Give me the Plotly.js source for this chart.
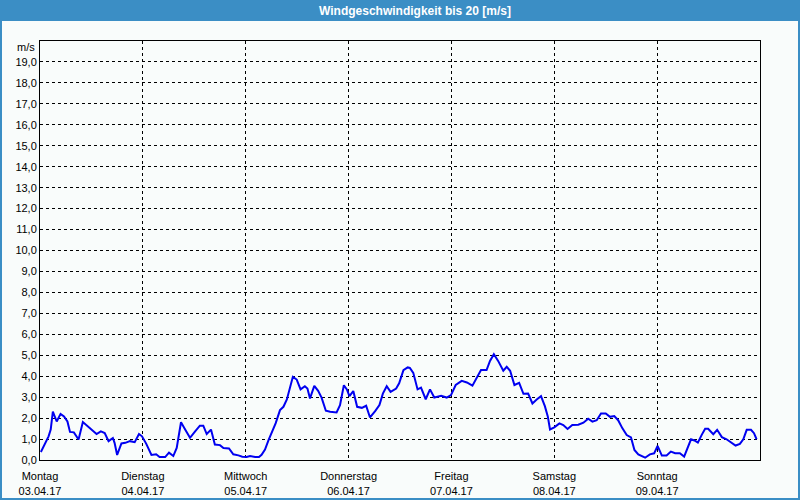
<!DOCTYPE html>
<html>
<head>
<meta charset="utf-8">
<script src="https://cdn.plot.ly/plotly-3.0.1.min.js"></script>
<style>
html,body{margin:0;padding:0;background:#F9FCFB;}
#chart{width:800px;height:500px;}
</style>
</head>
<body>
<div id="chart"></div>
<script>
// Hours since Monday 03.04.17 00:00
const hours = [0.2,1.1,2.0,2.5,3.0,3.4,3.9,4.8,5.6,6.4,7.0,7.9,9.0,10.0,11.0,12.1,13.2,14.2,15.1,16.0,17.0,17.4,18.0,19.0,19.9,21.0,22.1,23.1,23.8,24.8,26.0,27.1,27.9,28.7,29.2,30.1,31.1,31.9,32.3,32.9,33.8,35.0,36.2,37.3,38.1,38.9,39.9,40.8,42.0,42.8,44.1,45.1,46.3,47.2,48.2,49.0,50.2,51.1,51.7,52.5,53.3,54.1,54.4,55.0,56.0,56.8,57.6,58.2,59.0,59.9,60.8,61.8,62.4,63.0,64.0,64.9,65.7,66.7,67.7,69.2,70.0,70.9,71.6,72.2,73.1,74.0,75.1,76.1,77.0,78.2,79.2,80.0,80.9,81.8,83.1,83.8,84.8,85.8,86.3,87.1,88.1,88.9,90.0,91.0,92.0,93.6,94.9,95.9,97.0,98.4,99.6,100.9,101.9,102.9,104.2,105.0,105.9,106.9,108.1,108.9,109.7,110.7,111.8,112.8,113.9,114.9,115.9,116.9,117.8,118.5,119.0,120.0,121.2,122.1,123.1,124.2,125.6,126.8,127.9,128.9,129.9,130.9,132.0,133.0,134.0,134.9,135.9,136.9,137.9,138.7,139.6,141.2,142.3,143.3,144.1,145.1,146.2,147.2,148.2,149.3,150.3,151.1,151.9,152.7,153.5,154.4,155.2,155.9,157.1,158.0,159.1,160.2,161.2,162.3,163.3,164.1,164.9,165.9,166.6,167.2];
// Wind speed in m/s
const speed = [0.38,0.74,1.13,1.45,2.31,2.10,1.84,2.20,2.08,1.84,1.34,1.32,0.98,1.81,1.64,1.42,1.24,1.37,1.29,0.90,1.05,0.82,0.24,0.79,0.82,0.90,0.85,1.24,1.13,0.77,0.24,0.27,0.14,0.14,0.14,0.35,0.19,0.58,1.06,1.80,1.48,1.06,1.37,1.64,1.64,1.24,1.45,0.74,0.71,0.57,0.55,0.27,0.22,0.16,0.14,0.19,0.14,0.14,0.25,0.50,0.94,1.29,1.43,1.76,2.38,2.54,2.89,3.37,3.97,3.84,3.37,3.52,3.41,2.94,3.54,3.30,2.98,2.35,2.30,2.27,2.62,3.57,3.37,3.05,3.29,2.54,2.49,2.59,2.03,2.33,2.62,3.17,3.52,3.25,3.41,3.66,4.29,4.42,4.40,4.16,3.37,3.45,2.90,3.37,2.98,3.06,2.98,3.10,3.58,3.78,3.70,3.55,3.89,4.29,4.29,4.73,5.05,4.73,4.26,4.45,4.26,3.58,3.68,3.16,3.17,2.70,2.89,3.05,2.57,2.06,1.46,1.56,1.75,1.67,1.48,1.67,1.68,1.78,1.97,1.83,1.90,2.22,2.22,2.06,2.10,1.90,1.51,1.19,1.08,0.48,0.27,0.11,0.27,0.32,0.67,0.21,0.21,0.40,0.32,0.32,0.16,0.56,0.99,0.93,0.83,1.20,1.49,1.49,1.23,1.44,1.09,0.99,0.85,0.69,0.77,0.99,1.44,1.44,1.28,0.99];

const dayNames = ['Montag','Dienstag','Mittwoch','Donnerstag','Freitag','Samstag','Sonntag'];
const dayDates = ['03.04.17','04.04.17','05.04.17','06.04.17','07.04.17','08.04.17','09.04.17'];
const dayHours = [0,24,48,72,96,120,144];
const yTicks = [0,1,2,3,4,5,6,7,8,9,10,11,12,13,14,15,16,17,18,19];

const titleText = 'Windgeschwindigkeit bis 20 [m/s]';
const unitText = 'm/s';

const blue = '#3B8EC5';
const bg = '#F9FCFB';
const font = 'Liberation Sans, Arial, sans-serif';

const trace = {
  x: hours, y: speed, type: 'scatter', mode: 'lines',
  line: {color: '#0000F0', width: 2},
  hoverinfo: 'skip'
};

// paper coordinate helpers for a 720x419 plot area at (40,41)
const px = p => (p - 40) / 720;
const py = p => (460 - p) / 419;

const layout = {
  width: 800, height: 500,
  margin: {l: 40, r: 40, t: 41, b: 40},
  paper_bgcolor: bg, plot_bgcolor: bg,
  separators: ',.',
  showlegend: false,
  font: {family: font, size: 11, color: '#000'},
  xaxis: {
    range: [0, 168], tickmode: 'array', tickvals: dayHours,
    ticktext: dayNames.map((d, i) => d + '<br>' + dayDates[i]),
    ticks: '', ticklabelstandoff: 6,
    showgrid: true, gridcolor: '#000', gridwidth: 1, griddash: '3px,3px',
    showline: true, linecolor: '#000', linewidth: 1, mirror: true,
    zeroline: false, fixedrange: true, tickfont: {family: font, size: 11, color: '#000'}
  },
  yaxis: {
    range: [0, 20], tickmode: 'array', tickvals: yTicks, tickformat: '.1f',
    ticks: '', showgrid: true, gridcolor: '#000', gridwidth: 1, griddash: '3px,3px',
    showline: true, linecolor: '#000', linewidth: 1, mirror: true,
    zeroline: false, fixedrange: true, tickfont: {family: font, size: 11, color: '#000'}
  },
  shapes: [
    {type: 'rect', xref: 'paper', yref: 'paper', x0: px(-5), x1: px(805), y0: py(21), y1: py(-5), fillcolor: blue, line: {width: 0}, layer: 'below'},
    {type: 'rect', xref: 'paper', yref: 'paper', x0: px(-5), x1: px(2), y0: py(505), y1: py(-5), fillcolor: blue, line: {width: 0}, layer: 'below'},
    {type: 'rect', xref: 'paper', yref: 'paper', x0: px(798), x1: px(805), y0: py(505), y1: py(-5), fillcolor: blue, line: {width: 0}, layer: 'below'},
    {type: 'rect', xref: 'paper', yref: 'paper', x0: px(-5), x1: px(805), y0: py(505), y1: py(498), fillcolor: blue, line: {width: 0}, layer: 'below'}
  ],
  annotations: [
    {text: '<b>' + titleText + '</b>', xref: 'paper', yref: 'paper', x: px(415), y: py(10.5),
     xanchor: 'center', yanchor: 'middle', showarrow: false, font: {family: font, size: 12, color: '#fff'}},
    {text: unitText, xref: 'paper', yref: 'paper', x: px(37), y: py(47),
     xanchor: 'right', yanchor: 'middle', showarrow: false, font: {family: font, size: 11, color: '#000'}}
  ]
};

Plotly.newPlot('chart', [trace], layout, {displayModeBar: false, staticPlot: true});
</script>
</body>
</html>
